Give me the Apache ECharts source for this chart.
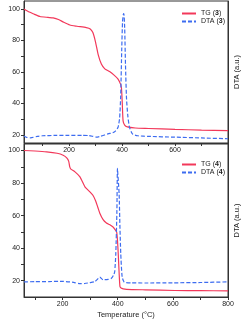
<!DOCTYPE html>
<html><head><meta charset="utf-8">
<script src="https://cdn.jsdelivr.net/npm/echarts@6/dist/echarts.min.js"></script>
<style>html,body{margin:0;padding:0;background:#fff}#c{width:241px;height:320px}</style>
</head><body><div id="c"></div>
<script>
// ---- data (temperature °C, value) ----
const tg3T  = [30, 50, 65, 90, 120, 140, 160, 180, 203, 230, 265, 280, 290, 300, 310, 322, 335, 353, 370, 385, 395, 398, 401, 404, 410, 420, 450, 500, 600, 700, 800];
const tg3V  = [100, 98, 96.9, 95.2, 94.6, 94.3, 93.3, 91.5, 89.8, 89, 88.1, 87.3, 85, 79, 71, 65, 62, 60.3, 58, 55.5, 52, 49.5, 40, 29, 26.3, 25.2, 24.5, 24.2, 23.6, 23.2, 22.9];
const dta3T = [30, 40, 55, 80, 100, 150, 200, 250, 275, 290, 303, 320, 347, 365, 375, 385, 391, 395, 399, 402, 405, 407, 410, 413, 417, 422, 428, 435, 441, 459, 500, 600, 700, 800];
const dta3V = [19.5, 18.6, 18.3, 19.2, 19.6, 19.8, 19.8, 19.8, 19.7, 19.2, 18.7, 19.3, 20.8, 21.5, 22.5, 25, 31, 45, 75, 92, 96.5, 97, 88, 65, 43, 32, 25, 22, 20.5, 19.6, 19.2, 18.7, 18.2, 17.7];
const tg4T  = [60, 100, 142, 180, 202, 215, 222, 226, 230, 245, 263, 281, 299, 310, 320, 328, 335, 347, 359, 370, 383, 390, 396, 399, 402, 405, 408, 412, 420, 432, 500, 607, 700, 800];
const tg4V  = [100, 99.7, 99.2, 98.3, 97.1, 95.5, 93.5, 90, 88.6, 86.9, 83.8, 77.7, 74.6, 72.5, 69, 65, 61.5, 57.5, 55.5, 54.5, 53, 51.5, 50, 45, 36, 25, 16.5, 15.5, 15, 14.7, 14.4, 14, 13.9, 13.8];
const dta4T = [60, 100, 150, 202, 240, 263, 280, 299, 317, 327, 335, 340, 347, 365, 377, 385, 389, 393, 397, 399, 401, 405, 408, 411, 416, 423, 430, 450, 500, 600, 700, 800];
const dta4V = [19.3, 19.4, 19.5, 19.6, 19, 18.2, 18.3, 18.8, 19.5, 21, 22.3, 21.5, 20.6, 20.8, 21.5, 23.5, 25.5, 36.6, 63, 89, 89, 73.5, 53, 36.6, 22.3, 19.2, 18.9, 18.7, 18.6, 18.7, 18.9, 19.3];

const xLabelsTop = [200, 400, 600];
const xLabelsBottom = [200, 400, 600, 800];
const xTicks = [100, 200, 300, 400, 500, 600, 700, 800];
const yLabels = [20, 40, 60, 80, 100];
const yTicks = [20, 30, 40, 50, 60, 70, 80, 90, 100];

const names = ['TG (3)', 'DTA (3)', 'TG (4)', 'DTA (4)'];
const xTitle = 'Temperature (°C)';
const yTitle = 'Mass rest (%)';
const y2Title = 'DTA (a.u.)';

// ---- styling ----
const FONT = 'Liberation Sans, Arial, sans-serif';
const AX = '#333';
const RED = '#f2385a';
const BLUE = '#3d6cf0';
function pairs(t, v) { return t.map((x, i) => [x, v[i]]); }

function xAxis(gi, min, labels, withName) {
  return {
    type: 'value', gridIndex: gi, min: min, max: 800,
    axisLine: { show: true, lineStyle: { color: AX, width: 1 } },
    axisTick: { show: true, customValues: xTicks, length: 3, lineStyle: { color: AX } },
    axisLabel: { customValues: labels, fontSize: 7, margin: 4, color: '#222', fontFamily: FONT },
    splitLine: { show: false },
    name: withName ? xTitle : '', nameLocation: 'middle', nameGap: 14,
    nameTextStyle: { fontSize: 7.5, color: '#222', fontFamily: FONT }
  };
}
function yAxis(gi, min, max) {
  return {
    type: 'value', gridIndex: gi, min: min, max: max, position: 'left',
    axisLine: { show: true, lineStyle: { color: AX, width: 1 } },
    axisTick: { show: true, customValues: yTicks, length: 3, lineStyle: { color: AX } },
    axisLabel: { customValues: yLabels, fontSize: 7, margin: 4, color: '#222', fontFamily: FONT },
    splitLine: { show: false },
    name: yTitle, nameLocation: 'middle', nameGap: 20, nameRotate: 90,
    nameTextStyle: { fontSize: 7.5, color: '#222', fontFamily: FONT }
  };
}
function y2Axis(gi, min, max) {
  return {
    type: 'value', gridIndex: gi, min: min, max: max, position: 'right',
    axisLine: { show: true, lineStyle: { color: AX, width: 1 } },
    axisTick: { show: false }, axisLabel: { show: false }, splitLine: { show: false },
    name: y2Title, nameLocation: 'middle', nameGap: 5, nameRotate: 90,
    nameTextStyle: { fontSize: 7.5, color: '#222', fontFamily: FONT, verticalAlign: 'top' }
  };
}
function line(name, xi, yi, data, color, dashed) {
  return {
    name: name, type: 'line', xAxisIndex: xi, yAxisIndex: yi, data: data,
    symbol: 'none', smooth: 0.2, silent: true,
    lineStyle: { color: color, width: 1.2, type: dashed ? [4, 2] : 'solid' },
    itemStyle: { color: color }
  };
}
function legend(top, items) {
  return {
    data: items, left: 181, top: top, orient: 'vertical', padding: 0,
    itemWidth: 14, itemHeight: 6, itemGap: 1,
    itemStyle: { opacity: 0 },
    textStyle: { fontSize: 7, color: '#222', fontFamily: FONT,
      rich: { b: { fontSize: 7, fontWeight: 'bold', color: '#222', fontFamily: FONT } } },
    formatter: n => n.replace(/\((\d)\)/, '({b|$1})')
  };
}

const chart = echarts.init(document.getElementById('c'), null, { renderer: 'canvas' });
chart.setOption({
  animation: false,
  backgroundColor: '#fff',
  grid: [
    { left: 24, right: 13, top: 1, height: 142, show: true, borderColor: AX, borderWidth: 1, outerBoundsMode: 'none', containLabel: false },
    { left: 24, right: 13, top: 144, height: 153, show: true, borderColor: AX, borderWidth: 1, outerBoundsMode: 'none', containLabel: false }
  ],
  xAxis: [xAxis(0, 30, xLabelsTop, false), xAxis(1, 60, xLabelsBottom, true)],
  yAxis: [yAxis(0, 15, 105), y2Axis(0, 15, 105), yAxis(1, 10, 104), y2Axis(1, 10, 104)],
  legend: [legend(10, [names[0], names[1]]), legend(161, [names[2], names[3]])],
  series: [
    line(names[0], 0, 0, pairs(tg3T, tg3V), RED, false),
    line(names[1], 0, 1, pairs(dta3T, dta3V), BLUE, true),
    line(names[2], 1, 2, pairs(tg4T, tg4V), RED, false),
    line(names[3], 1, 3, pairs(dta4T, dta4V), BLUE, true)
  ]
});
</script></body></html>
